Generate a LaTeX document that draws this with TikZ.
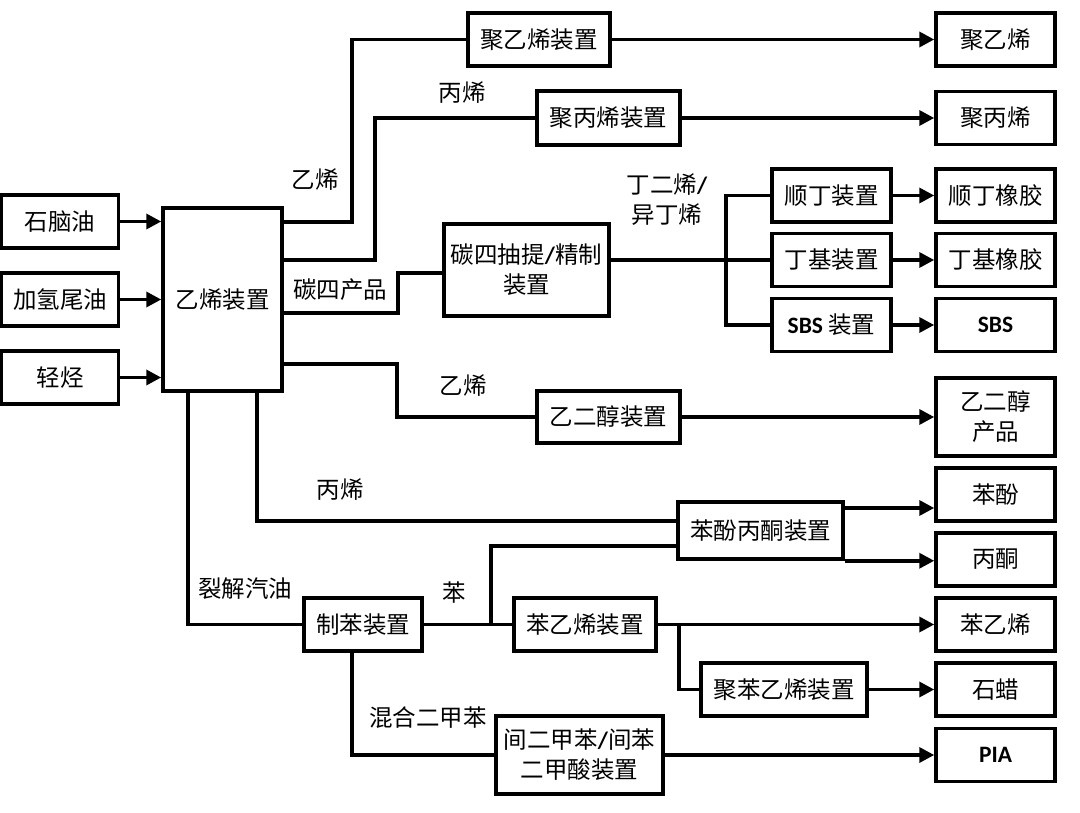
\documentclass[tikz,border=0pt]{standalone}
\usepackage{fontspec}
\setmainfont{Noto Sans CJK SC}
\newfontfamily\lat{Carlito}
\usetikzlibrary{arrows.meta}
\newcommand{\bsl}{{\lat\bfseries /}}
\begin{document}
\begin{tikzpicture}[x=1pt,y=-1pt,
  box/.style={draw, line width=3.5pt, inner sep=0pt, align=center, font=\fontsize{23.5}{30}\selectfont, minimum height=53pt},
  lab/.style={inner sep=0pt, align=center, font=\fontsize{23.5}{30}\selectfont},
  ln/.style={line width=3.5pt},
  arr/.style={line width=3.5pt, -{Triangle[length=15pt,width=15pt]}}]
\useasboundingbox (0,0) rectangle (1080,813);
% left inputs
\node[box,minimum width=117pt] (n1) at (60,221.5) {石脑油};
\node[box,minimum width=117pt] (n2) at (60,299.5) {加氢尾油};
\node[box,minimum width=117pt] (n3) at (60,377.5) {轻烃};
\node[box,minimum width=119pt,minimum height=183pt] (eth) at (222.5,299.5) {乙烯装置};
% middle units
\node[box,minimum width=142pt] (pe) at (539,39.5) {聚乙烯装置};
\node[box,minimum width=143pt,minimum height=54pt] (pp) at (608.5,118) {聚丙烯装置};
\node[box,minimum width=165pt,minimum height=92pt] (c4) at (526.5,270) {碳四抽提\bsl 精制\\装置};
\node[box,minimum width=119pt] (sd) at (831.5,195.5) {顺丁装置};
\node[box,minimum width=119pt] (bu) at (831.5,260) {丁基装置};
\node[box,minimum width=119pt] (sb) at (831.5,325) {{\lat\bfseries SBS} 装置};
\node[box,minimum width=143pt,minimum height=52pt] (eg) at (608.5,417) {乙二醇装置};
\node[box,minimum width=165pt,minimum height=57pt] (pa) at (760.5,530.5) {苯酚丙酮装置};
\node[box,minimum width=118pt] (bz) at (363,624.5) {制苯装置};
\node[box,minimum width=142pt] (sty) at (585,624.5) {苯乙烯装置};
\node[box,minimum width=166pt] (ps) at (784,689.5) {聚苯乙烯装置};
\node[box,minimum width=167pt,minimum height=78pt] (mx) at (579.5,755) {间二甲苯\bsl 间苯\\二甲酸装置};
% right products
\node[box,minimum width=119pt] (pe2) at (995.5,39.5) {聚乙烯};
\node[box,minimum width=119pt] (pp2) at (995.5,118) {聚丙烯};
\node[box,minimum width=119pt] (sdr) at (995.5,195.5) {顺丁橡胶};
\node[box,minimum width=119pt] (bur) at (995.5,260) {丁基橡胶};
\node[box,minimum width=119pt] (sbr) at (995.5,325) {{\lat\bfseries SBS}};
\node[box,minimum width=119pt,minimum height=78pt] (egp) at (995.5,417) {乙二醇\\产品};
\node[box,minimum width=119pt] (pf) at (995.5,494.5) {苯酚};
\node[box,minimum width=119pt] (pn) at (995.5,559.5) {丙酮};
\node[box,minimum width=119pt] (px) at (995.5,624.5) {苯乙烯};
\node[box,minimum width=119pt] (wax) at (995.5,689.5) {石蜡};
\node[box,minimum width=119pt] (pia) at (995.5,755) {{\lat\bfseries PIA}};
% labels
\node[lab] (l1) at (315,180) {乙烯};
\node[lab] (l2) at (462,93) {丙烯};
\node[lab] (l3) at (340,290) {碳四产品};
\node[lab] (l4) at (463,386) {乙烯};
\node[lab] (l5) at (340,490) {丙烯};
\node[lab] (l6) at (245,589) {裂解汽油};
\node[lab] (l7) at (454,593) {苯};
\node[lab] (l8) at (428,718) {混合二甲苯};
\node[lab] (l9) at (667,200) {丁二烯\bsl\\异丁烯};
% coordinates
\coordinate (e1) at (282,222);
\coordinate (e2) at (282,260);
\coordinate (e3) at (282,313);
\coordinate (e4) at (282,364);
\coordinate (b1) at (188,391);
\coordinate (b2) at (257,391);
\coordinate (b3) at (352,651);
\coordinate (j1) at (491,624.5);
\coordinate (j2) at (679,624.5);
\coordinate (j3) at (726,260);
% inputs
\draw[arr] (n1.east) -- (n1.east -| eth.west);
\draw[arr] (n2.east) -- (n2.east -| eth.west);
\draw[arr] (n3.east) -- (n3.east -| eth.west);
% ethylene outputs
\draw[ln] (e1) -- (352,222) |- (pe.west);
\draw[ln] (e2) -- (375,260) |- (pp.west);
\draw[ln] (e3) -- (398,313) |- ([yshift=-3pt]c4.west);
\draw[ln] (e4) -- (397,364) |- (eg.west);
\draw[ln] (b1) |- (bz.west);
\draw[ln] (b2) |- ([yshift=9.5pt]pa.west);
% C4
\draw[ln] (c4.east |- j3) -- (j3) -- (bu.west);
\draw[ln] (sd.west) -| (j3) |- (sb.west);
\draw[arr] (sd.east) -- (sdr.west);
\draw[arr] (bu.east) -- (bur.west);
\draw[arr] (sb.east) -- (sbr.west);
% products
\draw[arr] (pe.east) -- (pe2.west);
\draw[arr] (pp.east) -- (pp2.west);
\draw[arr] (eg.east) -- (egp.west);
\draw[arr] ([yshift=22.5pt]pa.east) coordinate (t1) -- (t1 -| pf.west);
\draw[arr] (pa.south east) -- (pa.south east -| pn.west);
% benzene
\draw[ln] (bz.east) -- (sty.west);
\draw[ln] (j1) |- ([yshift=-15.5pt]pa.west);
\draw[arr] (sty.east) -- (px.west);
\draw[ln] (j2) |- (ps.west);
\draw[arr] (ps.east) -- (wax.west);
\draw[ln] (b3) |- (mx.west);
\draw[arr] (mx.east) -- (pia.west);
\end{tikzpicture}
\end{document}
